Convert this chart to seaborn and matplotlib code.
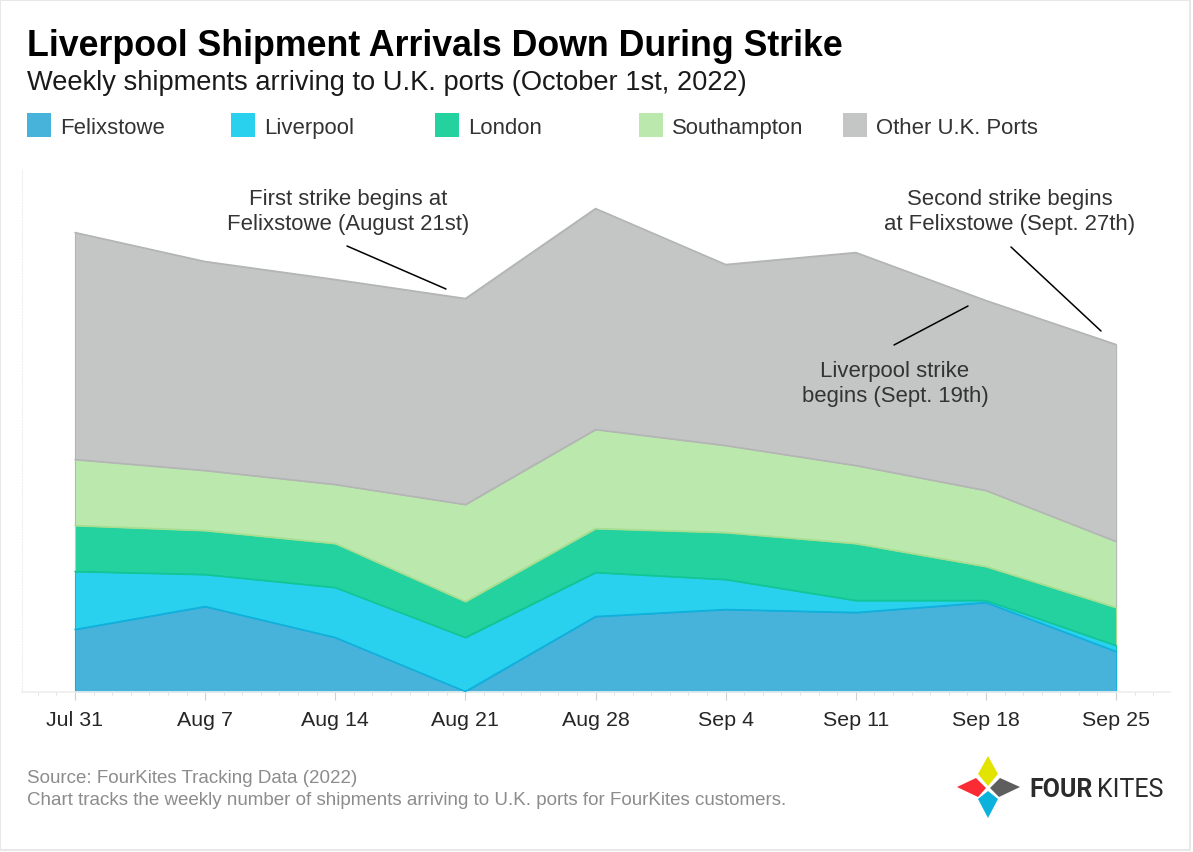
import pandas as pd
import seaborn as sns
import matplotlib.pyplot as plt
import matplotlib.dates as mdates
from matplotlib.patches import Polygon, Rectangle

weeks = ["2022-07-31", "2022-08-07", "2022-08-14", "2022-08-21", "2022-08-28",
         "2022-09-04", "2022-09-11", "2022-09-18", "2022-09-25"]
week_labels = ["Jul 31", "Aug 7", "Aug 14", "Aug 21", "Aug 28", "Sep 4", "Sep 11", "Sep 18", "Sep 25"]

ports = ["Felixstowe", "Liverpool", "London", "Southampton", "Other U.K. Ports"]
felixstowe = [62, 85, 54, 0, 75, 82, 79, 89, 40]
liverpool = [58, 32, 50, 54, 44, 30, 12, 2, 6]
london = [46, 44, 44, 36, 44, 47, 57, 34, 38]
southampton = [66, 60, 59, 97, 99, 87, 78, 76, 66]
other = [227, 209, 205, 206, 221, 181, 213, 190, 197]

fill_colors = ["#47B3DB", "#2AD1EE", "#24D29F", "#BBE9AD", "#C4C6C5"]
line_colors = ["#0FB0DC", "#10C596", "#A8DE90", "#B4B6B5", "#B4B6B5"]

W, H = 1193, 853
TEXT = "#333333"

sns.set_theme(style="white")
plt.rcParams["font.family"] = ["Liberation Sans", "DejaVu Sans"]


def fx(x):
    return x / W


def fy(y):
    return 1 - y / H


df = pd.DataFrame({"week": pd.to_datetime(weeks), "Felixstowe": felixstowe, "Liverpool": liverpool,
                   "London": london, "Southampton": southampton, "Other U.K. Ports": other})
tops = df.copy()
tops[ports] = tops[ports].cumsum(axis=1)
long_df = tops.melt(id_vars="week", value_vars=ports, var_name="port", value_name="top")

fig = plt.figure(figsize=(W / 100, H / 100), dpi=100, facecolor="white")
ax = fig.add_axes([fx(22), fy(692.5), fx(1170 - 22), (692.5 - 170.5) / H])

# bands first, top one first so the lower edges stay visible
for i in range(len(ports) - 1, -1, -1):
    lower = tops[ports[i - 1]] if i > 0 else 0
    ax.fill_between(tops["week"], lower, tops[ports[i]], facecolor=fill_colors[i],
                    edgecolor=line_colors[i], linewidth=0.8, zorder=2 + (5 - i) * 0.1)

sns.lineplot(data=long_df, x="week", y="top", hue="port", palette=line_colors, linewidth=1.1,
             legend=False, ax=ax, zorder=3)

ax.set_xlim(pd.Timestamp("2022-07-31") - pd.Timedelta(days=2.85), pd.Timestamp("2022-09-25") + pd.Timedelta(days=2.9))
ax.set_ylim(0, 522)
ax.set_xlabel("")
ax.set_ylabel("")
ax.set_yticks([])
ax.set_xticks(pd.to_datetime(weeks))
ax.set_xticklabels(week_labels, fontsize=15.4, color="#262626")
ax.xaxis.set_minor_locator(mdates.DayLocator())
ax.tick_params(axis="x", which="major", length=6, width=0.8, color="#cfcfcf", pad=7.5, bottom=True)
ax.tick_params(axis="x", which="minor", length=2, width=0.7, color="#e2e2e2", bottom=True)
sns.despine(ax=ax, top=True, right=True)
ax.spines["bottom"].set_color("#eeeeee")
ax.spines["left"].set_color("#eeeeee")
ax.spines["left"].set_linestyle(":")
ax.spines["left"].set_linewidth(0.8)

# titles
fig.text(fx(27), fy(47), "Liverpool Shipment Arrivals Down During Strike", fontsize=25.75,
         fontweight="bold", color="black", va="center")
fig.text(fx(27), fy(83), "Weekly shipments arriving to U.K. ports (October 1st, 2022)", fontsize=19.6,
         color="#1a1a1a", va="center")

# legend row
for i, port in enumerate(ports):
    x0 = 27 + i * 204
    fig.patches.append(Rectangle((fx(x0), fy(138)), 24 / W, 24 / H, transform=fig.transFigure,
                                 facecolor=fill_colors[i], edgecolor="none"))
    fig.text(fx(x0 + 33), fy(134), port, fontsize=15.9, color=TEXT, va="baseline")

# strike notes
fig.text(fx(348), fy(212), "First strike begins at\nFelixstowe (August 21st)", fontsize=15.9, color=TEXT,
         ha="center", va="center", linespacing=1.3)
fig.text(fx(1010), fy(212), "Second strike begins\nat Felixstowe (Sept. 27th)", fontsize=15.9, color=TEXT,
         ha="center", va="center", linespacing=1.3)
fig.text(fx(895), fy(384), "Liverpool strike\nbegins (Sept. 19th)", fontsize=15.9, color=TEXT,
         ha="center", va="center", linespacing=1.3)
for (x1, y1, x2, y2) in [(347, 247, 446, 290), (1011, 248, 1101, 332), (894, 346, 968, 307)]:
    fig.add_artist(plt.Line2D([fx(x1), fx(x2)], [fy(y1), fy(y2)], color="black", linewidth=1.1))

# footer
fig.text(fx(27), fy(783), "Source: FourKites Tracking Data (2022)", fontsize=13.5, color="#8c8c8c", va="baseline")
fig.text(fx(27), fy(805), "Chart tracks the weekly number of shipments arriving to U.K. ports for FourKites customers.",
         fontsize=13.5, color="#8c8c8c", va="baseline")

# logo
logo = [("#E2E400", [(988, 757), (998, 775), (988, 787), (978, 775)]),
        ("#FA2B33", [(957, 788), (976, 779), (986, 789), (978, 798)]),
        ("#5E5E5E", [(990, 789), (1000, 779), (1020, 788), (999, 798)]),
        ("#0BB2DC", [(988, 792), (998, 800), (988, 819), (978, 800)])]
for color, pts in logo:
    fig.patches.append(Polygon([(fx(x), fy(y)) for x, y in pts], closed=True, transform=fig.transFigure,
                               facecolor=color, edgecolor="none"))
fig.text(fx(1029), fy(797), "FOUR", fontsize=18, fontweight="bold", color="#2b2b2b", va="baseline", family="Roboto")
fig.text(fx(1097), fy(797), "KITES", fontsize=18, color="#2b2b2b", va="baseline", family="Roboto")

# thin outer frame
fig.patches.append(Rectangle((0, fy(851)), fx(1190), 850 / H, transform=fig.transFigure, facecolor="none",
                             edgecolor="#e8e8e8", linewidth=1.5))

fig.savefig("out.png", dpi=100)
plt.close(fig)
